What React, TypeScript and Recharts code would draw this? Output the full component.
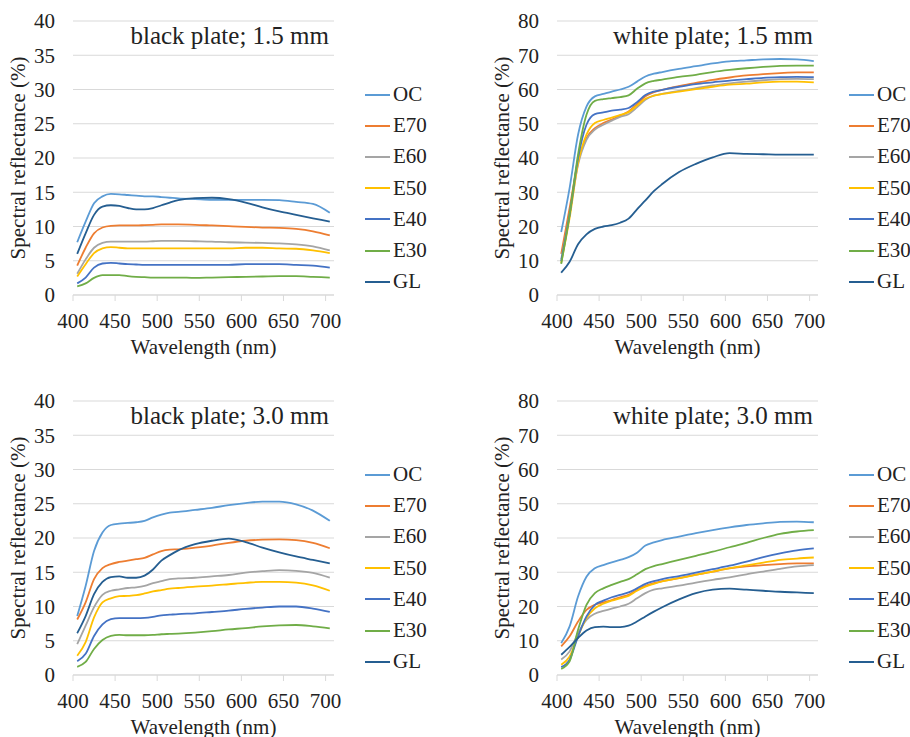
import { CartesianGrid, Label, Legend, Line, LineChart, XAxis, YAxis } from "recharts";

const wavelengths = [405, 415, 425, 435, 445, 455, 465, 475, 485, 495, 505, 515, 525, 545, 565, 585, 605, 625, 645, 665, 685, 705];
const seriesNames = ["OC", "E70", "E60", "E50", "E40", "E30", "GL"];
const seriesColors = ["#5B9BD5", "#ED7D31", "#A5A5A5", "#FFC000", "#4472C4", "#70AD47", "#255E91"];
const xTicks = [400, 450, 500, 550, 600, 650, 700];
const blackTicks = [0, 5, 10, 15, 20, 25, 30, 35, 40];
const whiteTicks = [0, 10, 20, 30, 40, 50, 60, 70, 80];

// black plate; 1.5 mm
const black15OC = [7.7, 10.7, 13.4, 14.4, 14.75, 14.7, 14.6, 14.5, 14.4, 14.4, 14.3, 14.2, 14.1, 14.0, 13.9, 13.9, 13.9, 13.9, 13.85, 13.6, 13.3, 12.0];
const black15E70 = [4.3, 6.9, 9.0, 9.85, 10.1, 10.15, 10.15, 10.15, 10.2, 10.25, 10.3, 10.3, 10.3, 10.25, 10.15, 10.05, 9.95, 9.85, 9.8, 9.65, 9.3, 8.7];
const black15E60 = [3.1, 5.2, 6.9, 7.6, 7.8, 7.8, 7.8, 7.8, 7.8, 7.85, 7.9, 7.9, 7.9, 7.85, 7.8, 7.7, 7.65, 7.6, 7.55, 7.4, 7.1, 6.5];
const black15E50 = [2.7, 4.5, 6.1, 6.8, 7.0, 6.9, 6.8, 6.8, 6.8, 6.8, 6.8, 6.8, 6.8, 6.8, 6.8, 6.8, 6.9, 6.9, 6.8, 6.75, 6.5, 6.1];
const black15E40 = [1.7, 2.55, 4.0, 4.6, 4.7, 4.6, 4.5, 4.45, 4.4, 4.4, 4.4, 4.4, 4.4, 4.4, 4.4, 4.4, 4.5, 4.5, 4.5, 4.4, 4.3, 4.0];
const black15E30 = [1.25, 1.7, 2.5, 2.9, 2.9, 2.9, 2.75, 2.65, 2.6, 2.55, 2.55, 2.55, 2.55, 2.5, 2.55, 2.6, 2.65, 2.7, 2.75, 2.75, 2.65, 2.55];
const black15GL = [6.0, 9.0, 11.7, 12.9, 13.1, 13.0, 12.7, 12.5, 12.5, 12.7, 13.1, 13.5, 13.85, 14.15, 14.2, 14.0, 13.5, 12.8, 12.2, 11.7, 11.2, 10.7];

// white plate; 1.5 mm
const white15OC = [18.4, 31.3, 46.8, 55.0, 58.0, 58.7, 59.4, 60.0, 60.8, 62.3, 63.8, 64.6, 65.1, 66.0, 66.8, 67.6, 68.2, 68.5, 68.8, 68.9, 68.8, 68.3];
const white15E70 = [12.0, 25.4, 39.0, 45.8, 48.7, 50.2, 51.2, 52.3, 53.6, 55.7, 58.0, 59.2, 59.9, 61.0, 61.9, 62.8, 63.5, 64.1, 64.5, 64.8, 65.0, 65.0];
const white15E60 = [10.4, 23.5, 38.0, 45.3, 48.3, 49.7, 50.9, 52.0, 52.8, 54.8, 57.0, 58.2, 58.7, 59.6, 60.4, 61.2, 61.8, 62.3, 62.7, 63.0, 63.1, 63.0];
const white15E50 = [9.4, 22.5, 38.5, 46.8, 50.2, 51.1, 51.8, 52.6, 53.4, 55.3, 57.3, 58.2, 58.7, 59.4, 60.1, 60.8, 61.4, 61.7, 62.1, 62.3, 62.3, 62.1];
const white15E40 = [9.9, 23.5, 40.0, 49.7, 52.8, 53.3, 53.8, 54.1, 54.6, 56.3, 58.4, 59.4, 59.9, 60.8, 61.6, 62.1, 62.6, 63.0, 63.4, 63.6, 63.7, 63.6];
const white15E30 = [9.1, 23.5, 41.0, 52.6, 56.7, 57.2, 57.5, 57.8, 58.3, 60.2, 61.8, 62.5, 62.9, 63.7, 64.3, 65.1, 65.7, 66.2, 66.6, 66.9, 67.0, 67.0];
const white15GL = [6.5, 9.7, 14.8, 17.7, 19.3, 20.0, 20.4, 21.1, 22.3, 25.0, 27.6, 30.3, 32.4, 35.9, 38.3, 40.2, 41.4, 41.2, 41.1, 41.0, 41.0, 41.0];

// black plate; 3.0 mm
const black30OC = [8.6, 13.0, 18.1, 20.8, 21.9, 22.1, 22.2, 22.3, 22.5, 23.0, 23.4, 23.7, 23.8, 24.1, 24.4, 24.8, 25.1, 25.3, 25.3, 24.9, 24.0, 22.5];
const black30E70 = [8.1, 10.6, 14.0, 15.6, 16.2, 16.5, 16.7, 16.9, 17.1, 17.6, 18.1, 18.3, 18.35, 18.6, 18.9, 19.3, 19.6, 19.75, 19.8, 19.7, 19.3, 18.5];
const black30E60 = [4.5, 7.2, 9.9, 11.7, 12.3, 12.5, 12.7, 12.8, 13.0, 13.4, 13.7, 14.0, 14.1, 14.2, 14.4, 14.6, 14.95, 15.15, 15.3, 15.2, 14.9, 14.2];
const black30E50 = [2.8, 4.8, 8.4, 10.6, 11.2, 11.5, 11.55, 11.65, 11.9, 12.2, 12.4, 12.6, 12.7, 12.9, 13.05, 13.25, 13.45, 13.6, 13.6, 13.5, 13.1, 12.3];
const black30E40 = [2.0, 3.1, 5.7, 7.4, 8.15, 8.3, 8.3, 8.3, 8.35, 8.5, 8.7, 8.8, 8.9, 9.0, 9.2, 9.4, 9.65, 9.85, 10.0, 10.0, 9.7, 9.2];
const black30E30 = [1.2, 1.9, 3.8, 5.1, 5.7, 5.85, 5.8, 5.8, 5.8, 5.85, 5.95, 6.0, 6.05, 6.2, 6.4, 6.65, 6.85, 7.1, 7.25, 7.3, 7.1, 6.8];
const black30GL = [6.1, 8.6, 11.8, 13.6, 14.3, 14.4, 14.2, 14.2, 14.5, 15.4, 16.7, 17.5, 18.2, 19.1, 19.6, 19.9, 19.4, 18.6, 17.9, 17.3, 16.8, 16.3];

// white plate; 3.0 mm
const white30OC = [9.3, 14.2, 22.9, 28.7, 31.2, 32.1, 32.9, 33.6, 34.4, 35.7, 37.8, 38.7, 39.4, 40.4, 41.4, 42.3, 43.1, 43.8, 44.3, 44.7, 44.8, 44.6];
const white30E70 = [8.35, 11.3, 15.6, 19.0, 20.5, 21.2, 21.9, 22.7, 23.4, 24.8, 26.0, 26.8, 27.4, 28.3, 29.3, 30.2, 31.1, 31.7, 32.1, 32.4, 32.6, 32.6];
const white30E60 = [4.5, 6.9, 12.2, 16.1, 17.9, 18.7, 19.4, 20.0, 20.8, 22.4, 23.9, 24.9, 25.3, 26.1, 27.0, 27.8, 28.5, 29.4, 30.2, 31.0, 31.7, 32.1];
const white30E50 = [3.0, 5.4, 11.3, 16.6, 19.5, 20.8, 21.7, 22.4, 23.1, 24.6, 25.8, 26.6, 27.3, 28.3, 29.2, 30.2, 31.2, 32.0, 32.8, 33.6, 34.0, 34.3];
const white30E40 = [2.3, 4.5, 11.3, 17.1, 20.5, 21.7, 22.7, 23.4, 24.1, 25.3, 26.6, 27.4, 28.0, 28.9, 29.9, 30.9, 31.9, 33.1, 34.4, 35.5, 36.4, 37.0];
const white30E30 = [1.75, 4.0, 13.2, 20.5, 23.9, 25.3, 26.3, 27.2, 28.0, 29.4, 30.9, 31.8, 32.4, 33.6, 34.8, 36.0, 37.3, 38.6, 40.0, 41.2, 41.9, 42.3];
const white30GL = [5.9, 8.2, 10.8, 13.0, 14.0, 14.1, 14.0, 14.0, 14.4, 15.6, 17.1, 18.5, 19.8, 22.1, 23.9, 24.9, 25.2, 24.9, 24.6, 24.3, 24.1, 23.9];

const serif = "'Liberation Serif', 'Times New Roman', serif";
const gridColor = "#d9d9d9";
const textColor = "#222";

function buildRows(series: number[][]) {
  return wavelengths.map((w, i) => {
    const row: Record<string, number> = { w };
    seriesNames.forEach((name, s) => {
      row[name] = series[s][i];
    });
    return row;
  });
}

// keep the legend in series order (recharts sorts it by name otherwise)
function LegendList(props: any) {
  const payload = [...(props.payload || [])].sort(
    (a: any, b: any) => seriesNames.indexOf(a.value) - seriesNames.indexOf(b.value)
  );
  return (
    <div>
      {payload.map((p: any) => (
        <div key={p.value} style={{ display: "flex", alignItems: "center", height: 31.2 }}>
          <span style={{ display: "inline-block", width: 25, height: 2, background: p.color }} />
          <span style={{ marginLeft: 3, fontFamily: serif, fontSize: 21, lineHeight: 1, color: textColor }}>
            {p.value}
          </span>
        </div>
      ))}
    </div>
  );
}

type PanelProps = {
  left: number;
  top: number;
  title: string;
  series: number[][];
  yMax: number;
  yTicks: number[];
};

function Panel({ left, top, title, series, yMax, yTicks }: PanelProps) {
  const rows = buildRows(series);
  return (
    <div style={{ position: "absolute", left, top, width: 455, height: 370 }}>
      <LineChart width={455} height={370} data={rows} margin={{ top: 21, right: 121, bottom: 10, left: 8 }}>
        <CartesianGrid vertical={false} stroke={gridColor} />
        <XAxis
          dataKey="w"
          type="number"
          domain={[400, 710]}
          ticks={xTicks}
          interval={0}
          height={65}
          tickSize={6}
          tickMargin={12}
          axisLine={{ stroke: gridColor }}
          tickLine={{ stroke: gridColor }}
          tick={{ fontFamily: serif, fontSize: 21, fill: textColor }}
        >
          <Label
            value="Wavelength (nm)"
            position="insideBottom"
            offset={6}
            fontFamily={serif}
            fontSize={21}
            fill={textColor}
            style={{ fontFamily: serif, fontSize: 21, fill: textColor }}
          />
        </XAxis>
        <YAxis
          type="number"
          domain={[0, yMax]}
          ticks={yTicks}
          interval={0}
          width={65}
          axisLine={false}
          tickLine={false}
          tickMargin={12}
          tick={{ fontFamily: serif, fontSize: 21, fill: textColor }}
        >
          <Label
            value="Spectral reflectance (%)"
            angle={-90}
            position="insideLeft"
            offset={10}
            fontFamily={serif}
            fontSize={21}
            fill={textColor}
            style={{ fontFamily: serif, fontSize: 21, fill: textColor, textAnchor: "middle" }}
          />
        </YAxis>
        {seriesNames.map((name, s) => (
          <Line
            key={name}
            type="monotone"
            dataKey={name}
            name={name}
            stroke={seriesColors[s]}
            strokeWidth={1.8}
            dot={false}
            isAnimationActive={false}
          />
        ))}
        <Legend
          layout="vertical"
          align="center"
          verticalAlign="middle"
          content={<LegendList />}
          wrapperStyle={{ left: 365, top: 79, width: 90 }}
        />
      </LineChart>
      <div
        style={{
          position: "absolute",
          left: 0,
          top: 23,
          width: 329,
          textAlign: "right",
          fontFamily: serif,
          fontSize: 25,
          lineHeight: "25px",
          color: textColor,
          whiteSpace: "nowrap",
        }}
      >
        {title}
      </div>
    </div>
  );
}

export default function App() {
  return (
    <div
      style={{
        position: "absolute",
        left: 0,
        top: 0,
        width: 910,
        height: 737,
        overflow: "hidden",
        background: "#fff",
        fontFamily: serif,
      }}
    >
      <Panel
        left={0}
        top={0}
        title="black plate; 1.5 mm"
        series={[black15OC, black15E70, black15E60, black15E50, black15E40, black15E30, black15GL]}
        yMax={40}
        yTicks={blackTicks}
      />
      <Panel
        left={484}
        top={0}
        title="white plate; 1.5 mm"
        series={[white15OC, white15E70, white15E60, white15E50, white15E40, white15E30, white15GL]}
        yMax={80}
        yTicks={whiteTicks}
      />
      <Panel
        left={0}
        top={380}
        title="black plate; 3.0 mm"
        series={[black30OC, black30E70, black30E60, black30E50, black30E40, black30E30, black30GL]}
        yMax={40}
        yTicks={blackTicks}
      />
      <Panel
        left={484}
        top={380}
        title="white plate; 3.0 mm"
        series={[white30OC, white30E70, white30E60, white30E50, white30E40, white30E30, white30GL]}
        yMax={80}
        yTicks={whiteTicks}
      />
    </div>
  );
}
